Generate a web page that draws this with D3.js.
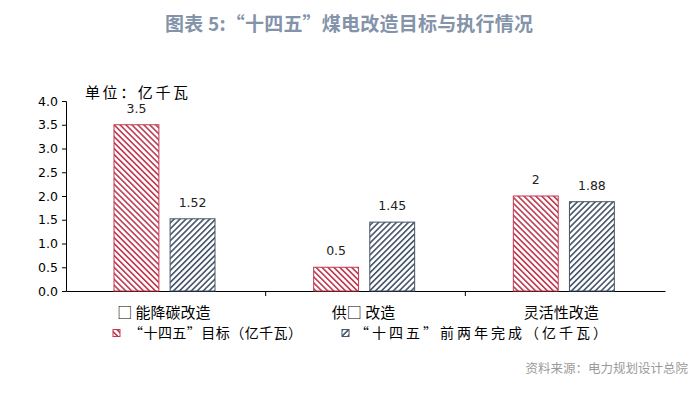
<!DOCTYPE html>
<html><head><meta charset="utf-8">
<script src="https://cdn.jsdelivr.net/npm/d3@7/dist/d3.min.js"></script>
<style>body{margin:0;background:#fff}</style>
</head><body>
<svg id="c" width="700" height="393"></svg>
<script>
const categories = ["□ 能降碳改造", "供□ 改造", "灵活性改造"];
const seriesNames = ["“十四五”目标（亿千瓦）", "“十四五”前两年完成（亿千瓦）"];
const target = [3.5, 0.5, 2];
const done = [1.52, 1.45, 1.88];
const targetLabels = ["3.5", "0.5", "2"];
const doneLabels = ["1.52", "1.45", "1.88"];
const yTicks = [0, 0.5, 1, 1.5, 2, 2.5, 3, 3.5, 4];

const svg = d3.select("#c");
const colors = ["#c0394f", "#44546a"];
const defs = svg.append("defs");
function pat(id, color, dir) {
  const p = defs.append("pattern").attr("id", id).attr("patternUnits", "userSpaceOnUse")
    .attr("width", 4.2).attr("height", 4.2)
    .attr("patternTransform", `rotate(${dir})`);
  p.append("rect").attr("width", 4.2).attr("height", 4.2).attr("fill", "#fff");
  p.append("rect").attr("width", 1.6).attr("height", 4.2).attr("fill", color);
}
pat("p0", colors[0], -45);
pat("p1", colors[1], 45);

svg.append("text").attr("x", 349).attr("y", 31).attr("text-anchor", "middle")
  .attr("font-family", "Noto Sans CJK SC").attr("font-weight", "bold").attr("font-size", 19)
  .attr("textLength", 368).attr("fill", "#8393a9").text("图表 5:“十四五”煤电改造目标与执行情况");

const x0 = d3.scaleBand().domain(categories).range([66, 665]);
const y = d3.scaleLinear().domain([0, 4]).range([291, 101]);

const yAxis = svg.append("g").attr("transform", "translate(66,0)")
  .call(d3.axisLeft(y).tickValues(yTicks).tickFormat(d3.format(".1f")).tickSizeOuter(0).tickSize(4));
yAxis.selectAll("text").attr("font-family", "DejaVu Sans").attr("font-size", 12.5).attr("fill", "#000").attr("dx", -1);
yAxis.selectAll("line,path").attr("stroke", "#000");

const xAxis = svg.append("g").attr("transform", "translate(0,291)")
  .call(d3.axisBottom(x0).tickValues([]).tickSizeOuter(0));
xAxis.select("path").attr("stroke", "#000");
xAxis.selectAll("line.b").data([x0(categories[1]), x0(categories[2])]).enter().append("line")
  .attr("x1", d => d).attr("x2", d => d).attr("y1", 0).attr("y2", 5).attr("stroke", "#000");

svg.selectAll("text.cat").data(categories).enter().append("text")
  .attr("x", (d, i) => x0(d) + x0.bandwidth() / 2 + [-2, -2, -4][i]).attr("y", 318)
  .attr("text-anchor", "middle").attr("font-family", "Noto Sans CJK SC").attr("font-size", 15)
  .attr("fill", "#000").text(d => d);

const x1 = d3.scaleBand().domain([0, 1]).range([48, 149]).paddingInner(0.2);
const series = [target, done];
const labels = [targetLabels, doneLabels];
series.forEach((vals, s) => {
  const g = svg.append("g");
  g.selectAll("rect").data(vals).enter().append("rect")
    .attr("x", (d, i) => x0(categories[i]) + x1(s))
    .attr("y", d => y(d)).attr("width", x1.bandwidth()).attr("height", d => 291 - y(d))
    .attr("fill", `url(#p${s})`).attr("stroke", colors[s]).attr("stroke-width", 1);
  g.selectAll("text").data(vals).enter().append("text")
    .attr("x", (d, i) => x0(categories[i]) + x1(s) + x1.bandwidth() / 2)
    .attr("y", d => y(d) - 12).attr("text-anchor", "middle")
    .attr("font-family", "DejaVu Sans").attr("font-size", 12.5).attr("fill", "#222")
    .text((d, i) => labels[s][i]);
});

svg.append("text").attr("x", 85).attr("y", 98).attr("font-family", "Noto Sans CJK SC")
  .attr("font-size", 15).attr("textLength", 103).attr("fill", "#000").text("单位：亿千瓦");

// legend
const lx = [113, 342];
const lw = [173, 252];
seriesNames.forEach((n, s) => {
  svg.append("rect").attr("x", lx[s]).attr("y", 329.5).attr("width", 7).attr("height", 7)
    .attr("fill", `url(#p${s})`).attr("stroke", colors[s]);
  svg.append("text").attr("x", lx[s] + 16 - s * 3).attr("y", 338).attr("font-family", "Noto Sans CJK SC")
    .attr("font-size", 14).attr("textLength", lw[s]).attr("fill", "#000").text(n);
});

svg.append("text").attr("x", 688).attr("y", 373).attr("text-anchor", "end")
  .attr("font-family", "Noto Sans CJK SC").attr("font-size", 12.5).attr("fill", "#9a9a9a")
  .text("资料来源：电力规划设计总院");
</script>
</body></html>
